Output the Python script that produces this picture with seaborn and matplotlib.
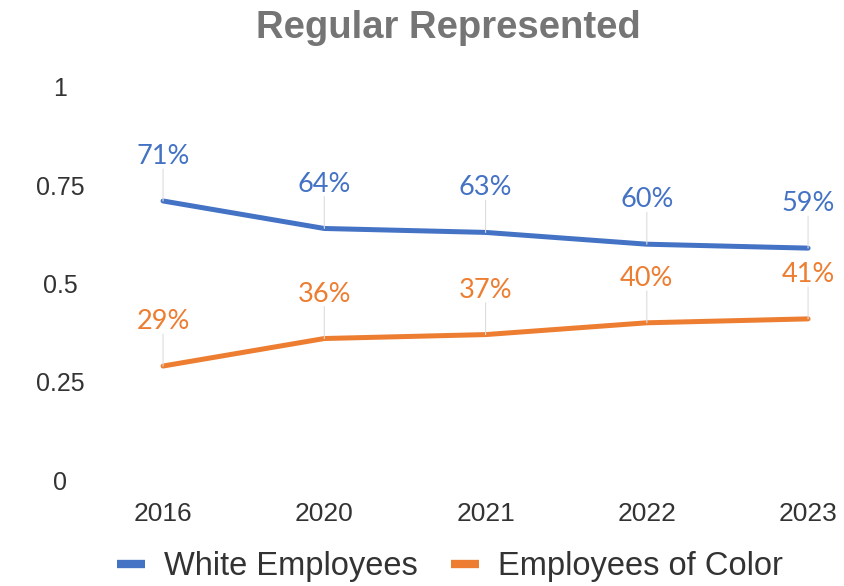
import matplotlib
matplotlib.use("Agg")
import matplotlib.pyplot as plt
import seaborn as sns
import pandas as pd
from matplotlib.lines import Line2D

years = ["2016", "2020", "2021", "2022", "2023"]
white = [0.71, 0.64, 0.63, 0.60, 0.59]
color_emp = [0.29, 0.36, 0.37, 0.40, 0.41]
series_names = ["White Employees", "Employees of Color"]
y_ticks = [0, 0.25, 0.5, 0.75, 1]
y_tick_labels = ["0", "0.25", "0.5", "0.75", "1"]
title = "Regular Represented"

BLUE = "#4472C4"
ORANGE = "#ED7D31"

sns.set_theme(style="white")
plt.rcParams['font.family'] = ['Liberation Sans', 'DejaVu Sans']

df = pd.DataFrame({
    "year": years * 2,
    "value": white + color_emp,
    "series": [series_names[0]] * len(years) + [series_names[1]] * len(years),
})

fig = plt.figure(figsize=(8.44, 5.86), dpi=100)
W, H = 844, 586
ax = fig.add_axes([90 / W, (H - 480) / H, (835 - 90) / W, 393 / H])

sns.lineplot(data=df, x="year", y="value", hue="series",
             palette=[BLUE, ORANGE], linewidth=3.6, ax=ax, legend=False,
             sort=False)

ax.set_ylim(0, 1)
ax.set_xlim(-0.453, 4.167)
ax.set_yticks(y_ticks)
ax.set_yticklabels(y_tick_labels)
ax.set_xlabel("")
ax.set_ylabel("")
for s in ax.spines.values():
    s.set_visible(False)
ax.grid(False)
ax.tick_params(axis="y", length=0, labelsize=18, colors="#333333", pad=0)
for lab in ax.get_yticklabels():
    lab.set_horizontalalignment("center")
    lab.set_x(-0.04)
ax.tick_params(axis="x", length=0, labelsize=19, colors="#333333", pad=16)

for vals, col in [(white, BLUE), (color_emp, ORANGE)]:
    for i, v in enumerate(vals):
        ax.annotate(f"{round(v*100)}%", xy=(i, v), xytext=(0, 32),
                    textcoords="offset points", ha="center", va="center",
                    fontsize=19.5, color=col, family=["Lato", "DejaVu Sans"])
        ax.annotate("", xy=(i, v), xytext=(0, 23), textcoords="offset points",
                    arrowprops=dict(arrowstyle="-", color="#dddddd", lw=0.8,
                                    shrinkA=0, shrinkB=0))

fig.text(448 / W, 1 - 28 / H, title, ha="center", va="center",
         fontsize=27.5, fontweight="bold", color="#757575")

handles = [Line2D([0], [0], color=BLUE, lw=6, solid_capstyle="butt"),
           Line2D([0], [0], color=ORANGE, lw=6, solid_capstyle="butt")]
fig.legend(handles, series_names, loc="center", bbox_to_anchor=(450 / W, 1 - 567 / H),
           ncol=2, frameon=False, fontsize=23.5, handlelength=0.85,
           columnspacing=1.0, handletextpad=0.6, labelcolor="#333333")

fig.savefig("out.png", dpi=100)
